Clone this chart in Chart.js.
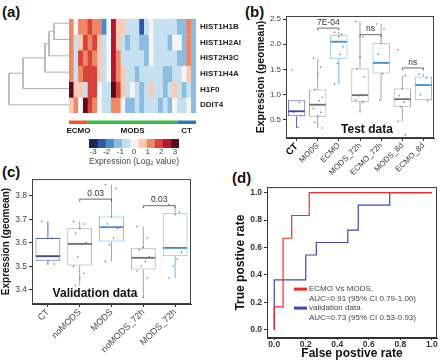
<!DOCTYPE html>
<html>
<head>
<meta charset="utf-8">
<script src="https://cdn.jsdelivr.net/npm/chart.js@4.4.1/dist/chart.umd.min.js"></script>
<style>
  body { margin: 0; background: #fff; }
  #fig { position: relative; width: 440px; height: 362px; overflow: hidden; font-family: "Liberation Sans", Arial, sans-serif; }
  #fig canvas { position: absolute; }
  .tag { position: absolute; font-weight: bold; font-size: 15px; line-height: 15px; color: #111; }
</style>
</head>
<body>
<div id="fig">
  <div class="tag" style="left:2px;top:4px">(a)</div>
  <div class="tag" style="left:245px;top:4px">(b)</div>
  <div class="tag" style="left:2px;top:164px">(c)</div>
  <div class="tag" style="left:232px;top:170px">(d)</div>
  <canvas id="dendro" width="66" height="98" style="left:3px;top:15px"></canvas>
  <canvas id="heat" width="186" height="128" style="left:60px;top:10px"></canvas>
  <canvas id="cbar" width="120" height="34" style="left:80px;top:136px"></canvas>
  <canvas id="testBox" width="185" height="172" style="left:255px;top:8px"></canvas>
  <canvas id="valBox" width="200" height="190" style="left:0px;top:172px"></canvas>
  <canvas id="roc" width="207" height="182" style="left:233px;top:180px"></canvas>
</div>
<script>
// ---- (a) heatmap ----
const genes = ['HIST1H1B', 'HIST1H2AI', 'HIST2H3C', 'HIST1H4A', 'H1F0', 'DDIT4'];
const hist1h1b = [1.0, 0, 1.0, 1.0, 1.8, 1.2, 1.2, -1.8, 0, 2.2, 0.4, 0.4, -0.5, -0.5, -0.5, -2.2, -0.5, 0, -0.5, -0.5, -0.5, -0.5, -0.5, -1.2, -1.2, 1.3, -1.2];
const hist1h2ai = [1.0, -0.5, 0.4, 1.8, 1.2, 1.8, 0.4, -0.8, 0, 2.5, 0.4, -0.5, -1.3, -0.5, -0.5, -1.2, -1.2, 0, -0.5, -0.5, -0.5, -1.2, 0, 0, -1.2, 1.3, -1.2];
const hist2h3c = [1.0, -0.5, 1.8, 1.0, 1.8, 1.2, 0.4, -0.8, 0, 2.5, 1.0, -0.5, -0.5, -0.5, -0.5, -0.5, -1.2, 0, -0.5, -0.5, -0.5, -0.5, -0.5, -1.2, -1.2, 1.3, -1.2];
const hist1h4a = [1.0, -0.5, 1.0, 1.8, 1.8, 1.8, 0.4, -0.5, 0, 2.5, 1.0, 0.4, -0.5, -0.5, -1.2, -0.5, -0.5, -0.5, -0.5, -0.5, -1.2, -1.2, -0.5, -0.5, 0, 0.5, -1.2];
const h1f0 = [3.0, 0.5, 0.5, -0.5, 1.8, 1.8, 0, -0.5, -0.5, 2.8, 1.8, 0.5, -0.5, 0, -0.5, -1.2, -0.5, 0.5, -0.5, -0.5, -1.2, -0.5, 0.5, -0.5, -1.2, -0.5, -1.2];
const ddit4 = [0.5, 1.2, 0, 3.0, 1.8, 1.2, 0, -0.5, -0.5, 1.2, 1.2, 0, -1.2, -1.2, -0.5, -1.2, -0.5, -0.5, -0.5, -1.2, -0.5, -1.2, 0, -0.5, -0.5, 0, -1.2];
const heatRows = [hist1h1b, hist1h2ai, hist2h3c, hist1h4a, h1f0, ddit4];

const groupNames = ['ECMO', 'MODS', 'CT'];
const groupSizes = [4, 19, 4];
const groupColors = ['#f0562e', '#3fba48', '#3d6fc6'];

// colour key: 11 bins from -3.3 to 3.3
const cbMin = -3.3, cbStep = 0.6;
const heatPalette = ['#1b2a52', '#2c58a6', '#4a8bcb', '#8bbde1', '#c6e0f0', '#f5f5f5', '#fbcab3', '#ef8767', '#d7423a', '#b31a2d', '#5a0b1f'];

// dendrogram: leaves 0..5, new nodes 6..10
const mergeA = [0, 6, 7, 8, 9];
const mergeB = [1, 2, 3, 4, 5];
const mergeH = [15, 20, 24, 46, 60];

// ---- (b) test data ----
const catsB = ['CT', 'MODS', 'ECMO', 'MODS_72h', 'ECMO_72h', 'MODS_8d', 'ECMO_8d'];
const kindB = ['ct', 'mods', 'ecmo', 'mods', 'ecmo', 'mods', 'ecmo'];
const loB = [0.34, 0.33, 1.21, 0.66, 0.89, 0.47, 0.89];
const q1B = [0.57, 0.56, 1.71, 0.86, 1.42, 0.76, 0.89];
const medB = [0.67, 0.80, 2.05, 0.99, 1.63, 0.91, 1.19];
const q3B = [0.89, 1.10, 2.18, 1.52, 2.02, 1.12, 1.36];
const hiB = [0.89, 1.72, 2.24, 2.45, 2.40, 1.38, 1.41];
const ptsB = [
  [1.49, 0.85, 0.67, 0.65, 0.58, 0.35],
  [1.72, 1.55, 1.42, 1.1, 0.95, 0.88, 0.8, 0.72, 0.65, 0.58, 0.45, 0.34],
  [2.24, 2.2, 2.15, 2.05, 1.95, 1.8, 1.62, 1.21],
  [2.45, 2.15, 1.75, 1.52, 1.35, 1.0, 0.98, 0.9, 0.85, 0.66],
  [2.40, 2.3, 2.02, 1.8, 1.63, 1.42, 0.89],
  [1.89, 1.38, 1.12, 0.98, 0.91, 0.85, 0.76, 0.47, 0.2],
  [1.41, 1.33, 1.19, 1.0, 0.89]
];
const brFromB = [1, 3, 5], brToB = [2, 4, 6], brAtB = [2.32, 2.19, 1.53], brTextB = ['7E-04', 'ns', 'ns'];

// ---- (c) validation data ----
const catsC = ['CT', 'noMODS', 'MODS', 'noMODS_72h', 'MODS_72h'];
const kindC = ['ct', 'mods', 'ecmo', 'mods', 'ecmo'];
const loC = [3.506, 3.418, 3.52, 3.369, 3.45];
const q1C = [3.524, 3.503, 3.605, 3.486, 3.543];
const medC = [3.543, 3.595, 3.666, 3.536, 3.578];
const q3C = [3.62, 3.661, 3.711, 3.577, 3.725];
const hiC = [3.69, 3.691, 3.847, 3.669, 3.762];
const ptsC = [
  [3.69, 3.62, 3.545, 3.54, 3.51],
  [3.69, 3.68, 3.66, 3.64, 3.6, 3.595, 3.54, 3.5, 3.47, 3.45, 3.42],
  [3.847, 3.83, 3.71, 3.68, 3.66, 3.62, 3.59, 3.52],
  [3.669, 3.62, 3.58, 3.57, 3.54, 3.52, 3.5, 3.48, 3.45, 3.369],
  [3.762, 3.73, 3.72, 3.58, 3.56, 3.53, 3.5, 3.45]
];
const brFromC = [1, 3], brToC = [2, 4], brAtC = [3.785, 3.757], brTextC = ['0.03', '0.03'];

// ---- (d) ROC ----
const redFpr = [0, 0, 0.056, 0.056, 0.111, 0.111, 0.222, 0.222, 1.0];
const redTpr = [0, 0.167, 0.167, 0.667, 0.667, 0.833, 0.833, 1.0, 1.0];
const blueFpr = [0, 0, 0.2, 0.2, 0.267, 0.267, 0.467, 0.467, 0.533, 0.533, 0.733, 0.733, 1.0];
const blueTpr = [0, 0.364, 0.364, 0.545, 0.545, 0.636, 0.636, 0.727, 0.727, 0.909, 0.909, 1.0, 1.0];
const rocLegend = [['ECMO Vs MODS,', 'AUC=0.91 (95% CI 0.79-1.00)'], ['validation data', 'AUC=0.73 (95% CI 0.53-0.93)']];

const FONT = '"Liberation Sans", Arial, sans-serif';
Chart.defaults.font.family = FONT;
Chart.defaults.color = '#444';
Chart.defaults.animation = false;
Chart.defaults.events = [];
Chart.defaults.responsive = false;
Chart.defaults.plugins.legend.display = false;
Chart.defaults.plugins.tooltip.enabled = false;

function heatColor(v) {
  const i = Math.floor((v - cbMin) / cbStep);
  return heatPalette[Math.max(0, Math.min(heatPalette.length - 1, i))];
}

// dendrogram links
const nodeY = genes.map((g, i) => i + 0.5);
const nodeH = genes.map(() => 0);
const links = mergeA.map((a, k) => {
  const b = mergeB[k], h = mergeH[k];
  const seg = [{x: nodeH[a], y: nodeY[a]}, {x: h, y: nodeY[a]}, {x: h, y: nodeY[b]}, {x: nodeH[b], y: nodeY[b]}];
  nodeY.push((nodeY[a] + nodeY[b]) / 2);
  nodeH.push(h);
  return seg;
});

new Chart(document.getElementById('dendro'), {
  type: 'scatter',
  data: { datasets: links.map(seg => ({ data: seg, showLine: true, pointRadius: 0, borderColor: '#b3b3b3', borderWidth: 1 })) },
  options: {
    layout: { padding: 0 },
    scales: {
      x: { type: 'linear', min: 0, max: 66, reverse: true, display: false },
      y: { type: 'linear', min: 0, max: 6, reverse: true, display: false }
    }
  }
});

const groupStrip = {
  id: 'groupStrip',
  afterDraw(chart) {
    const { ctx, chartArea: a } = chart;
    const x = chart.scales.x;
    const colW = a.width / chart.data.labels.length;
    let start = 0;
    ctx.save();
    groupNames.forEach((g, i) => {
      const x0 = x.getPixelForValue(start) - colW / 2;
      const x1 = x.getPixelForValue(start + groupSizes[i] - 1) + colW / 2;
      ctx.fillStyle = groupColors[i];
      ctx.fillRect(x0, a.bottom + 7.5, x1 - x0, 3.5);
      ctx.fillStyle = '#111';
      ctx.font = 'bold 8px ' + FONT;
      ctx.textAlign = 'center';
      ctx.textBaseline = 'middle';
      ctx.fillText(g, (x0 + x1) / 2, a.bottom + 17.5);
      start += groupSizes[i];
    });
    ctx.restore();
  }
};

new Chart(document.getElementById('heat'), {
  type: 'bar',
  data: {
    labels: hist1h1b.map((v, i) => i),
    datasets: heatRows.map((row, r) => ({
      label: genes[r],
      data: row.map(() => 1),
      backgroundColor: row.map(heatColor),
      borderColor: row.map(heatColor),
      borderWidth: 0.4,
      borderSkipped: false,
      barPercentage: 1,
      categoryPercentage: 1
    }))
  },
  options: {
    layout: { padding: { left: 9, top: 5, bottom: 25, right: 0 } },
    scales: {
      x: { stacked: true, display: false },
      y: {
        stacked: true, position: 'right', reverse: true, min: 0, max: 6,
        grid: { display: false, drawTicks: false, tickLength: 0 }, border: { display: false },
        afterBuildTicks: s => { s.ticks = genes.map((g, i) => ({ value: i + 0.5 })); },
        afterFit: s => { s.width = 50; },
        ticks: { padding: 4, color: '#222', font: { size: 8, weight: 'bold' }, callback: (v, i) => genes[i] }
      }
    }
  },
  plugins: [groupStrip]
});

// colour key
new Chart(document.getElementById('cbar'), {
  type: 'bar',
  data: {
    labels: ['key'],
    datasets: heatPalette.map((c, i) => ({
      data: [[cbMin + i * cbStep, cbMin + (i + 1) * cbStep]],
      backgroundColor: c, borderWidth: 0, grouped: false,
      barPercentage: 1, categoryPercentage: 1
    }))
  },
  options: {
    indexAxis: 'y',
    layout: { padding: { left: 9, right: 21, top: 3, bottom: 0 } },
    scales: {
      y: { display: false },
      x: {
        type: 'linear', min: cbMin, max: -cbMin,
        grid: { display: false, drawTicks: false, tickLength: 0 }, border: { display: false },
        ticks: { stepSize: 1, includeBounds: false, padding: 0, color: '#444', font: { size: 8, lineHeight: 1 } },
        title: { display: true, text: 'Expression (Log\u2082 value)', color: '#444', font: { size: 8.5 }, padding: { top: 0, bottom: 3 } },
        afterFit: s => { s.height = 22; }
      }
    }
  }
});

// ---- box plots ----
const kindStyle = {
  ct: { line: '#5a62b9', med: '#3a43a5' },
  mods: { line: '#a3a3a3', med: '#707070' },
  ecmo: { line: '#72b7ea', med: '#3b8fd9' }
};

function boxPlugin(o) {
  return {
    id: 'boxes',
    afterDatasetsDraw(chart) {
      const ctx = chart.ctx, ys = chart.scales.y, a = chart.chartArea;
      const bars = chart.getDatasetMeta(0).data;
      ctx.save();
      bars.forEach((bar, i) => {
        const st = kindStyle[o.kind[i]];
        const cx = bar.x, hw = bar.width / 2;
        ctx.strokeStyle = st.line;
        ctx.lineWidth = 1;
        ctx.beginPath();
        ctx.moveTo(cx, ys.getPixelForValue(o.hi[i]));
        ctx.lineTo(cx, ys.getPixelForValue(o.q3[i]));
        ctx.moveTo(cx, ys.getPixelForValue(o.q1[i]));
        ctx.lineTo(cx, ys.getPixelForValue(o.lo[i]));
        ctx.stroke();
        const m = ys.getPixelForValue(o.med[i]);
        ctx.strokeStyle = st.med;
        ctx.lineWidth = 1.8;
        ctx.beginPath();
        ctx.moveTo(cx - hw + 0.5, m);
        ctx.lineTo(cx + hw - 0.5, m);
        ctx.stroke();
        ctx.fillStyle = '#6a6a6a';
        o.pts[i].forEach((v, j) => {
          const dx = ((((j * 5) % 7) - 3) / 3) * hw * 0.5;
          ctx.beginPath();
          ctx.arc(cx + dx, ys.getPixelForValue(v), 0.75, 0, Math.PI * 2);
          ctx.fill();
        });
      });
      // significance brackets
      ctx.strokeStyle = '#444';
      ctx.lineWidth = 0.8;
      ctx.fillStyle = '#333';
      ctx.font = '8.5px ' + FONT;
      ctx.textAlign = 'center';
      ctx.textBaseline = 'bottom';
      o.brFrom.forEach((f, k) => {
        const x1 = bars[f].x, x2 = bars[o.brTo[k]].x, yb = ys.getPixelForValue(o.brAt[k]);
        ctx.beginPath();
        ctx.moveTo(x1, yb + 2.5);
        ctx.lineTo(x1, yb);
        ctx.lineTo(x2, yb);
        ctx.lineTo(x2, yb + 2.5);
        ctx.stroke();
        ctx.fillText(o.brText[k], (x1 + x2) / 2, yb - 1.5);
      });
      ctx.strokeStyle = '#444';
      ctx.lineWidth = 1;
      ctx.strokeRect(a.left + 0.5, a.top + 0.5, a.width - 1, a.height - 1);
      ctx.fillStyle = '#111';
      ctx.font = 'bold 12px ' + FONT;
      ctx.textBaseline = 'middle';
      ctx.fillText(o.text, a.left + a.width * o.textX, a.bottom - o.textDy);
      ctx.restore();
    }
  };
}

function boxChart(id, o) {
  return new Chart(document.getElementById(id), {
    type: 'bar',
    data: {
      labels: o.cats,
      datasets: [{
        data: o.q1.map((v, i) => [v, o.q3[i]]),
        backgroundColor: '#ffffff',
        borderColor: o.kind.map(k => kindStyle[k].line),
        borderWidth: 1,
        borderSkipped: false,
        barPercentage: o.barPct,
        categoryPercentage: 1
      }]
    },
    options: {
      layout: { padding: o.pad },
      scales: {
        x: {
          grid: { offset: false, drawOnChartArea: false, tickLength: 3, color: '#333' },
          border: { color: '#333' },
          ticks: { autoSkip: false, minRotation: 45, maxRotation: 45, padding: 0, font: o.xFont, color: o.xColor },
          afterFit: s => { s.height = o.xH; }
        },
        y: {
          min: o.min, max: o.max,
          grid: { drawOnChartArea: false, tickLength: 3, color: '#333' },
          border: { color: '#333' },
          ticks: { stepSize: o.step, includeBounds: false, padding: 2, color: '#444', font: { size: o.yTick }, callback: v => v.toFixed(1) },
          title: { display: true, text: 'Expression (geomean)', color: '#111', font: { size: o.yTitle, weight: 'bold' }, padding: 0 },
          afterFit: s => { s.width = o.yW; }
        }
      }
    },
    plugins: [boxPlugin(o)]
  });
}

boxChart('testBox', {
  cats: catsB, kind: kindB, lo: loB, q1: q1B, med: medB, q3: q3B, hi: hiB, pts: ptsB,
  brFrom: brFromB, brTo: brToB, brAt: brAtB, brText: brTextB,
  text: 'Test data', textX: 0.547, textDy: 8,
  min: 0.14, max: 2.56, step: 0.5, barPct: 0.82,
  pad: { top: 8, right: 6, left: 0, bottom: 0 }, xH: 42, yW: 31, yTick: 8, yTitle: 10.5,
  xFont: c => (c.index === 0 ? { size: 9.5, weight: 'bold' } : { size: 8 }),
  xColor: c => (c.index === 0 ? '#000' : '#444')
});

boxChart('valBox', {
  cats: catsC, kind: kindC, lo: loC, q1: q1C, med: medC, q3: q3C, hi: hiC, pts: ptsC,
  brFrom: brFromC, brTo: brToC, brAt: brAtC, brText: brTextC,
  text: 'Validation data', textX: 0.396, textDy: 10,
  min: 3.34, max: 3.87, step: 0.1, barPct: 0.78,
  pad: { top: 7, right: 9, left: 0, bottom: 0 }, xH: 58, yW: 32, yTick: 8.5, yTitle: 10,
  xFont: { size: 9 }, xColor: '#444'
});

// ---- ROC ----
const rocLegendPlugin = {
  id: 'rocLegend',
  afterDraw(chart) {
    const { ctx, chartArea: a } = chart;
    ctx.save();
    ctx.strokeStyle = '#333';
    ctx.lineWidth = 1;
    ctx.strokeRect(a.left + 0.5, a.top + 0.5, a.width - 1, a.height - 1);
    ctx.font = '8px ' + FONT;
    ctx.textAlign = 'left';
    ctx.textBaseline = 'middle';
    rocLegend.forEach((lines, k) => {
      const ds = chart.data.datasets[k];
      const y0 = a.top + 102 + k * 19;
      ctx.strokeStyle = ds.borderColor;
      ctx.lineWidth = 3;
      ctx.beginPath();
      ctx.moveTo(a.left + 27, y0);
      ctx.lineTo(a.left + 40, y0);
      ctx.stroke();
      ctx.fillStyle = '#444';
      lines.forEach((t, j) => ctx.fillText(t, a.left + 42, y0 + j * 10));
    });
    ctx.restore();
  }
};

new Chart(document.getElementById('roc'), {
  type: 'scatter',
  data: {
    datasets: [
      { label: 'ECMO Vs MODS', data: redFpr.map((x, i) => ({ x, y: redTpr[i] })), showLine: true, pointRadius: 0, borderColor: '#f02b2b', borderWidth: 1.2 },
      { label: 'validation data', data: blueFpr.map((x, i) => ({ x, y: blueTpr[i] })), showLine: true, pointRadius: 0, borderColor: '#3d47b5', borderWidth: 1.2 }
    ]
  },
  options: {
    layout: { padding: { top: 7, right: 3, left: 0, bottom: 0 } },
    scales: {
      x: {
        type: 'linear', min: -0.046, max: 1.033,
        grid: { drawOnChartArea: false, tickLength: 2, color: '#333' }, border: { color: '#333' },
        ticks: { stepSize: 0.2, includeBounds: false, padding: 0, color: '#333', font: { size: 8.5, weight: 'bold', lineHeight: 1 }, callback: v => v.toFixed(1) },
        title: { display: true, text: 'False postive rate', color: '#111', font: { size: 12, weight: 'bold', lineHeight: 1 }, padding: { top: 0, bottom: 2 } },
        afterFit: s => { s.height = 24; }
      },
      y: {
        type: 'linear', min: -0.06, max: 1.04,
        grid: { drawOnChartArea: false, tickLength: 3, color: '#333' }, border: { color: '#333' },
        ticks: { stepSize: 0.2, includeBounds: false, padding: 2, color: '#333', font: { size: 8.5, weight: 'bold' }, callback: v => v.toFixed(1) },
        title: { display: true, text: 'True postive rate', color: '#111', font: { size: 12, weight: 'bold' }, padding: 0 },
        afterFit: s => { s.width = 34; }
      }
    }
  },
  plugins: [rocLegendPlugin]
});
</script>
</body>
</html>
